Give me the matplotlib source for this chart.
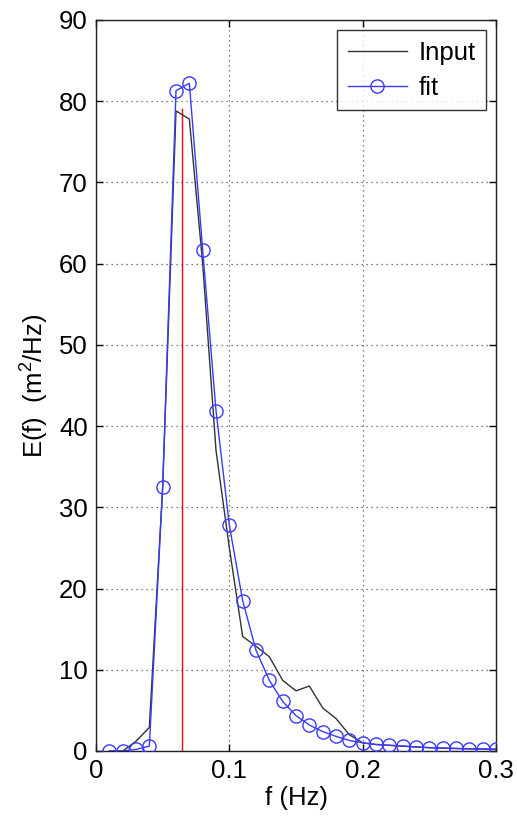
import numpy as np
import matplotlib
matplotlib.use("Agg")
import matplotlib.pyplot as plt

plt.rcParams["font.family"] = ["Liberation Sans", "DejaVu Sans"]
plt.rcParams["mathtext.fontset"] = "custom"
plt.rcParams["mathtext.rm"] = "Liberation Sans"
plt.rcParams["mathtext.it"] = "Liberation Sans"

# frequency bins (Hz)
freq = [0.01, 0.02, 0.03, 0.04, 0.05, 0.06, 0.07, 0.08, 0.09, 0.10,
        0.11, 0.12, 0.13, 0.14, 0.15, 0.16, 0.17, 0.18, 0.19, 0.20,
        0.21, 0.22, 0.23, 0.24, 0.25, 0.26, 0.27, 0.28, 0.29, 0.30]

# measured spectrum
e_input = [0.0, 0.0, 1.2, 2.9, 32.5, 78.8, 77.8, 60.0, 37.0, 25.0,
           14.1, 12.9, 11.6, 8.7, 7.4, 8.0, 5.3, 4.0, 2.0, 1.0,
           0.8, 0.7, 0.6, 0.5, 0.4, 0.35, 0.3, 0.25, 0.25, 0.2]

# fitted spectrum
e_fit = [0.0, 0.0, 0.2, 0.6, 32.5, 81.3, 82.2, 61.7, 41.9, 27.8,
         18.5, 12.4, 8.7, 6.1, 4.35, 3.2, 2.4, 1.8, 1.3, 1.0,
         0.8, 0.7, 0.6, 0.5, 0.42, 0.36, 0.32, 0.28, 0.25, 0.22]

# peak frequency marker
f_peak = 0.0643
e_peak = 79.0

fig = plt.figure(figsize=(5.17, 8.25), dpi=100)
ax = fig.add_axes([0.1857, 0.0897, 0.7737, 0.8861])

ax.plot(freq, e_input, color="#333333", linewidth=1.0, label="Input", zorder=3)
ax.plot(freq, e_fit, color="#3a3aff", linewidth=1.0, marker="o", markersize=9.5,
        markerfacecolor="none", markeredgecolor="#3a3aff", markeredgewidth=1.0,
        label="fit", zorder=4)
ax.plot([f_peak, f_peak], [0, e_peak], color="red", linewidth=1.0, zorder=2)

ax.set_xlim(0, 0.3)
ax.set_ylim(0, 90)
ax.set_xticks([0, 0.1, 0.2, 0.3])
ax.set_xticklabels(["0", "0.1", "0.2", "0.3"])
ax.set_yticks(np.arange(0, 91, 10))

ax.grid(True, color="#555555", linestyle=(0, (1, 3)), linewidth=0.9)
ax.tick_params(direction="in", length=5, width=1.0, top=True, right=True,
               labelsize=18.5, pad=6)
for sp in ax.spines.values():
    sp.set_linewidth(1.0)
    sp.set_color("#222222")

ax.set_xlabel("f (Hz)", fontsize=18.5, labelpad=2)
ax.set_ylabel("E(f)  (m$^2$/Hz)", fontsize=18.5, labelpad=6)

leg = ax.legend(loc="upper right", fontsize=18.5, frameon=True, fancybox=False,
                edgecolor="black", handlelength=2.3, handletextpad=0.45,
                borderpad=0.4, labelspacing=0.45, borderaxespad=0.4)
leg.get_frame().set_linewidth(1.0)

fig.savefig("out.png", dpi=100)
